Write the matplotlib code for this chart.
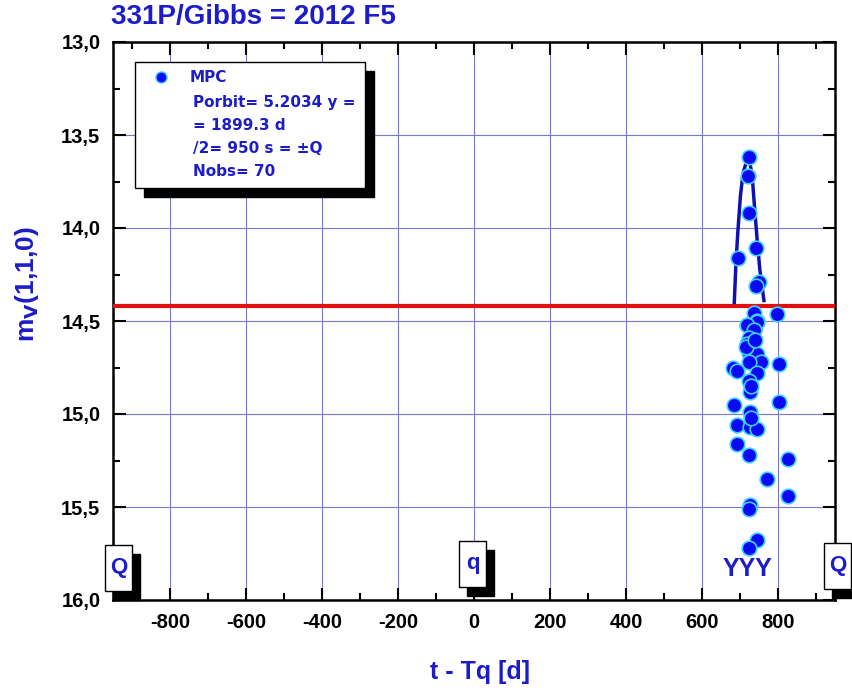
import matplotlib
matplotlib.use("Agg")
import matplotlib.pyplot as plt
from matplotlib.patches import Rectangle
from matplotlib.ticker import MultipleLocator, FuncFormatter

plt.rcParams["font.family"] = ["Liberation Sans", "DejaVu Sans"]
plt.rcParams["font.weight"] = "bold"

TITLE = "331P/Gibbs = 2012 F5"
BLUE = "#1c1cc8"

# observations: days from perihelion, magnitude m_V(1,1,0)
obs_t = [723, 722, 723, 741, 694, 750, 741, 798, 738, 744, 719, 736,
         744, 719, 738, 723, 719, 723, 744, 754, 803, 682, 693, 723,
         746, 723, 726, 803, 685, 726, 691, 726, 746, 691, 723, 826,
         770, 826, 726, 723, 744, 723, 730, 716, 740, 728]
obs_mag = [13.62, 13.72, 13.92, 14.11, 14.16, 14.29, 14.31, 14.46, 14.455, 14.50, 14.52, 14.55,
           14.505, 14.52, 14.55, 14.59, 14.625, 14.67, 14.68, 14.72, 14.73, 14.75, 14.77, 14.72,
           14.78, 14.82, 14.88, 14.935, 14.95, 14.99, 15.06, 15.07, 15.08, 15.16, 15.22, 15.24,
           15.35, 15.44, 15.49, 15.51, 15.68, 15.72, 14.85, 14.64, 14.60, 15.02]

# fitted light curve
fit_t = [685, 689, 694, 701, 708, 716, 721, 726, 732, 738, 745, 752, 763]
fit_mag = [14.40, 14.205, 14.03, 13.83, 13.705, 13.65, 13.64, 13.65, 13.72, 13.88, 14.06, 14.22, 14.39]

ref_mag = 14.42
legend_lines = ["Porbit= 5.2034 y =", "= 1899.3 d", "/2= 950 s = \u00b1Q", "Nobs= 70"]
marks = [("Q", 105, 545), ("q", 459, 541), ("Q", 824, 543)]

W, H = 853, 690
fig = plt.figure(figsize=(W / 100, H / 100), dpi=100)
ax = fig.add_axes([113 / W, 1 - 600 / H, (835 - 113) / W, (600 - 42) / H])


def px(x, y):
    return x / W, 1 - y / H


ax.set_xlim(-950, 950)
ax.set_ylim(16.0, 13.0)
ax.xaxis.set_major_locator(MultipleLocator(200))
ax.xaxis.set_minor_locator(MultipleLocator(100))
ax.yaxis.set_major_locator(MultipleLocator(0.5))
ax.yaxis.set_minor_locator(MultipleLocator(0.25))
ax.yaxis.set_major_formatter(FuncFormatter(lambda v, p: f"{v:.1f}".replace(".", ",")))
ax.xaxis.set_major_formatter(FuncFormatter(lambda v, p: "" if abs(v) > 900 else f"{v:.0f}"))
ax.grid(True, which="major", color="#7878c8", lw=0.8)
ax.tick_params(which="both", direction="in", top=True, right=True, width=1.5,
               labelsize=14.5, pad=9)
ax.tick_params(which="major", length=9)
ax.tick_params(which="minor", length=5)
for s in ax.spines.values():
    s.set_linewidth(1.8)
for lab in ax.get_xticklabels() + ax.get_yticklabels():
    lab.set_fontweight("bold")

ax.axhline(ref_mag, color="#e01010", lw=3, zorder=3)
ax.plot(fit_t, fit_mag, color="#1010b0", lw=2.5, zorder=4)
ax.scatter(obs_t, obs_mag, s=110, color="#0a0af0", edgecolors="#40d0ff",
           linewidths=1.2, zorder=5)

fig.text(*px(480, 672), "t - Tq [d]", color=BLUE, fontsize=18, fontweight="bold",
         ha="center", va="center")
fig.text(*px(27, 284), r"m$_\mathbf{V}$(1,1,0)", color=BLUE, fontsize=19, fontweight="bold",
         ha="center", va="center", rotation=90)
fig.text(*px(111, 17), TITLE, color=BLUE, fontsize=20, fontweight="bold", va="center")

# legend box with shadow
x0, y0 = px(135, 188)
w, h = 230 / W, 126 / H
fig.add_artist(Rectangle((x0 + 9 / W, y0 - 9 / H), w, h, transform=fig.transFigure,
                         facecolor="black", edgecolor="black", zorder=6))
fig.add_artist(Rectangle((x0, y0), w, h, transform=fig.transFigure,
                         facecolor="white", edgecolor="black", lw=1, zorder=7))
mx, my = px(161, 77)
fig.add_artist(plt.Line2D([mx], [my], marker="o", markersize=8, color="#0a0af0",
                          markeredgecolor="#40d0ff", transform=fig.transFigure, zorder=8))
fig.text(*px(190, 78), "MPC", color=BLUE, fontsize=11, fontweight="bold", va="center",
         family="DejaVu Sans", zorder=8)
for i, line in enumerate(legend_lines):
    fig.text(*px(193, 102 + i * 23.3), line, color=BLUE, fontsize=11,
             fontweight="bold", va="center", family="DejaVu Sans", zorder=8)

# Q / q markers with shadow
for label, bx, by in marks:
    bx0, by0 = px(bx, by + 46)
    fig.add_artist(Rectangle((bx0 + 8 / W, by0 - 9 / H), 27 / W, 46 / H, transform=fig.transFigure,
                             facecolor="black", edgecolor="black", zorder=6, clip_on=False))
    fig.add_artist(Rectangle((bx0, by0), 27 / W, 46 / H, transform=fig.transFigure,
                             facecolor="white", edgecolor="black", lw=1, zorder=7, clip_on=False))
    fig.text(*px(bx + 13.5, by + 22), label, color=BLUE, fontsize=16, fontweight="bold",
             ha="center", va="center", zorder=8)

fig.text(*px(748, 569), "YYY", color=BLUE, fontsize=18, fontweight="bold",
         ha="center", va="center")

fig.savefig("out.png", dpi=100)
